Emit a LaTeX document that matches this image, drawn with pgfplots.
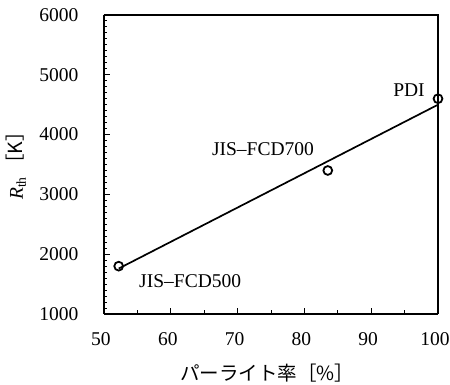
\documentclass[border=0pt]{standalone}
\usepackage{pgfplots}
\pgfplotsset{compat=1.18}
\usepackage{fontspec}
\setmainfont{Liberation Serif}
\newfontfamily\jp{Noto Sans CJK JP}
\begin{document}
\begin{tikzpicture}[font=\fontsize{19.5}{22}\selectfont]
\useasboundingbox (0,0) rectangle (450pt,385pt);
\begin{axis}[
  at={(104pt,71pt)}, anchor=south west,
  scale only axis, width=334pt, height=299pt,
  xmin=50, xmax=100, ymin=1000, ymax=6000,
  xtick={50,60,...,100}, ytick={1000,2000,...,6000},
  minor x tick num=1, minor y tick num=9,
  tick align=inside, tick pos=left,
  major tick length=6pt, minor tick length=3.5pt,
  every tick/.style={black, line width=1pt},
  axis x line*=bottom, axis y line*=left,
  axis line style={-, line width=1.8pt},
  /pgf/number format/assume math mode=true,
  /pgf/number format/1000 sep={},
  ticklabel style={font=\fontsize{19.5}{22}\selectfont},
  xticklabel style={yshift=-15pt, xshift=-3pt},
  yticklabel style={xshift=-22pt},
  xlabel={\jp パーライト率［\%］},
  ylabel={\textit{R}\textsubscript{th}\,{\jp［K］}},
  xlabel style={at={(axis description cs:0.488,-0.197)}, anchor=center},
  ylabel style={at={(axis description cs:-0.263,0.512)}, anchor=center, rotate=0},
  clip=false,
]
\draw[line width=1.1pt] (rel axis cs:0,1) -- (rel axis cs:1,1) -- (rel axis cs:1,0);
\addplot[black, line width=1.7pt, no marks] coordinates {(52.2,1760) (100,4500)};
\addplot[only marks, mark=o, mark size=4.4pt, mark options={line width=1.8pt, fill=white, draw=black}] coordinates {
(52.2,1800) (83.5,3400) (100,4600)};
\node at (axis cs:95.66,4746) {PDI};
\node at (axis cs:73.8,3759) {JIS--FCD700};
\node at (axis cs:62.9,1552) {JIS--FCD500};
\end{axis}
\end{tikzpicture}
\end{document}
